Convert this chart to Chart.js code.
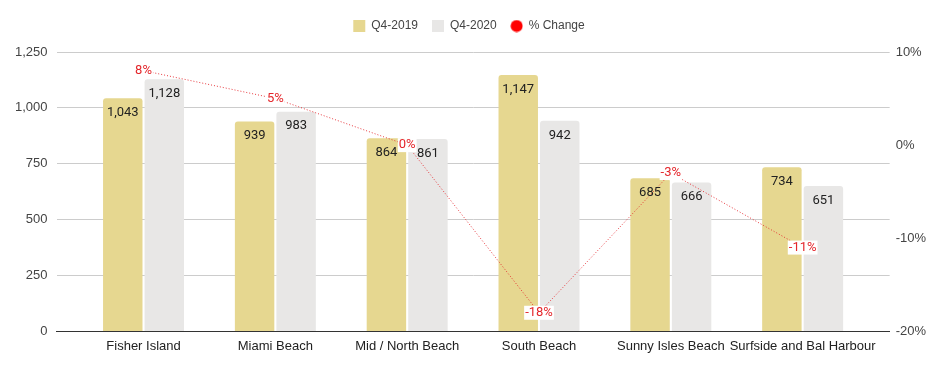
<!DOCTYPE html>
<html>
<head>
<meta charset="utf-8">
<script src="https://cdn.jsdelivr.net/npm/chart.js@4/dist/chart.umd.min.js"></script>
<style>
  html, body { margin: 0; padding: 0; background: #fff; }
  #wrap { width: 944px; height: 371px; }
</style>
</head>
<body>
<div id="wrap"><canvas id="chart"></canvas></div>
<script>
const areas = ['Fisher Island', 'Miami Beach', 'Mid / North Beach', 'South Beach', 'Sunny Isles Beach', 'Surfside and Bal Harbour'];
const q42019 = [1043, 939, 864, 1147, 685, 734];
const q42020 = [1128, 983, 861, 942, 666, 651];
const pctChange = [8, 5, 0, -18, -3, -11];

const gold = '#e6d790';
const grey = '#e8e7e6';
const red = '#e4262b';

// small red dot for the legend, same size as the squares
const dot = document.createElement('canvas');
dot.width = 13;
dot.height = 13;
const dctx = dot.getContext('2d');
dctx.fillStyle = '#ff0000';
dctx.beginPath();
dctx.arc(6.5, 6.5, 6, 0, Math.PI * 2);
dctx.fill();

// bar values and % labels, drawn from the library's own elements
const labelPlugin = {
  id: 'valueLabels',
  beforeInit(chart) {
    const fit = chart.legend.fit;
    chart.legend.fit = function () {
      fit.call(this);
      this.height += 10;
    };
  },
  afterDatasetsDraw(chart) {
    const ctx = chart.ctx;
    ctx.save();
    chart.data.datasets.forEach((ds, i) => {
      const meta = chart.getDatasetMeta(i);
      meta.data.forEach((el, j) => {
        if (ds.type === 'line') {
          const txt = ds.data[j] + '%';
          ctx.font = '13px Roboto';
          const w = ctx.measureText(txt).width;
          ctx.fillStyle = '#fff';
          ctx.fillRect(el.x - w / 2 - 1, el.y - 7, w + 2, 14);
          ctx.fillStyle = red;
          ctx.textAlign = 'center';
          ctx.textBaseline = 'middle';
          ctx.fillText(txt, el.x, el.y);
        } else {
          ctx.font = '13px Roboto';
          ctx.fillStyle = '#222';
          ctx.textAlign = 'center';
          ctx.textBaseline = 'top';
          ctx.fillText(ds.data[j].toLocaleString('en-US'), el.x, el.y + 8);
        }
      });
    });
    ctx.restore();
  }
};

new Chart(document.getElementById('chart'), {
  data: {
    labels: areas,
    datasets: [
      {
        type: 'bar',
        label: 'Q4-2019',
        data: q42019,
        backgroundColor: gold,
        borderRadius: { topLeft: 3, topRight: 3 },
        borderSkipped: 'bottom',
        categoryPercentage: 0.63,
        barPercentage: 0.95,
        pointStyle: 'rect',
        order: 1,
        yAxisID: 'y',
      },
      {
        type: 'bar',
        label: 'Q4-2020',
        data: q42020,
        backgroundColor: grey,
        borderRadius: { topLeft: 3, topRight: 3 },
        borderSkipped: 'bottom',
        categoryPercentage: 0.63,
        barPercentage: 0.95,
        pointStyle: 'rect',
        order: 1,
        yAxisID: 'y',
      },
      {
        type: 'line',
        label: '% Change',
        data: pctChange,
        borderColor: 'rgba(228,38,43,0.9)',
        backgroundColor: '#ff0000',
        borderWidth: 1,
        borderDash: [1, 2],
        pointRadius: 0,
        pointStyle: dot,
        tension: 0,
        order: 0,
        yAxisID: 'y1',
      },
    ],
  },
  options: {
    responsive: true,
    maintainAspectRatio: false,
    animation: false,
    layout: {
      padding: { left: 6, right: 12, top: 6, bottom: 10 },
    },
    plugins: {
      tooltip: { enabled: false },
      legend: {
        position: 'top',
        labels: {
          usePointStyle: true,
          boxWidth: 12,
          boxHeight: 12,
          padding: 14,
          color: '#444',
          font: { family: 'Arial', size: 12 },
          sort: (a, b) => a.datasetIndex - b.datasetIndex,
        },
      },
    },
    scales: {
      x: {
        offset: true,
        afterBuildTicks: (scale) => {
          scale._startValue -= 0.16;
          scale._valueRange += 0.32;
        },
        grid: { display: false, drawTicks: false },
        border: { color: '#333', width: 1 },
        ticks: {
          color: '#222',
          padding: 7,
          autoSkip: false,
          maxRotation: 0,
          font: { family: 'Arial', size: 13 },
        },
      },
      y: {
        position: 'left',
        min: 0,
        max: 1250,
        border: { display: false },
        grid: { color: '#cccccc', drawTicks: false },
        ticks: {
          stepSize: 250,
          padding: 9,
          color: '#444',
          font: { family: 'Arial', size: 13 },
          callback: (v) => v.toLocaleString('en-US'),
        },
      },
      y1: {
        position: 'right',
        min: -20,
        max: 10,
        border: { display: false },
        grid: { display: false, drawTicks: false },
        ticks: {
          stepSize: 10,
          padding: 6,
          color: '#444',
          font: { family: 'Arial', size: 13 },
          callback: (v) => v + '%',
        },
      },
    },
  },
  plugins: [labelPlugin],
});
</script>
</body>
</html>
